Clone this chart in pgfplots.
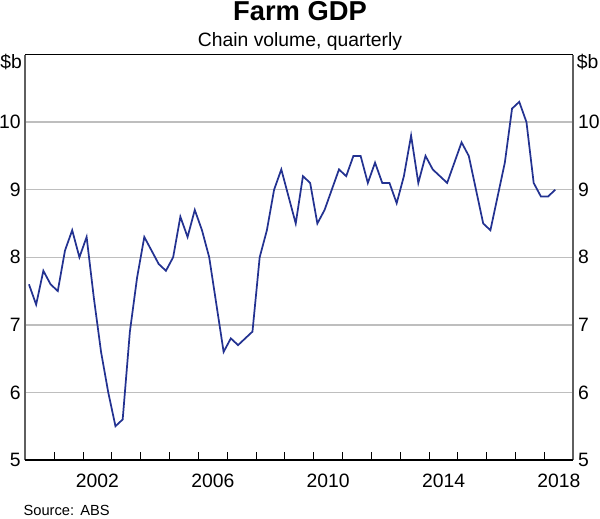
\documentclass[border=0pt]{standalone}
\usepackage{fontspec}
\setmainfont{Liberation Sans}
\usepackage{pgfplots}
\pgfplotsset{compat=1.18}
\definecolor{rbablue}{RGB}{35,50,145}
\definecolor{gridgray}{RGB}{190,190,190}
\definecolor{sidegray}{RGB}{95,95,95}
\pgfplotstableset{col sep=space}
\begin{document}
\begin{tikzpicture}[x=1pt,y=1pt]
\useasboundingbox (0,0) rectangle (450,388.5);
\pgfplotsset{
  farm/.style={
    at={(19pt,43.5pt)}, anchor=south west, scale only axis,
    width=411pt, height=304.1pt,
    xmin=2000, xmax=2019, ymin=5, ymax=11,
    ytick={5,6,7,8,9,10},
    major tick length=0pt,
    /pgf/number format/assume math mode=true,
    tick label style={font=\fontsize{14.5}{16}\selectfont},
  }
}
\begin{axis}[farm,
  clip=false,
  axis line style={draw=none},
  xtick={2002.5,2006.5,2010.5,2014.5,2018.5},
  xticklabels={2002,2006,2010,2014,2018},
  minor xtick={2001,2002,...,2018},
  minor tick length=5.8pt,
  minor tick style={black, line width=0.75pt},
  xtick pos=bottom, ytick pos=left, tick align=inside,
  ymajorgrids, grid style={gridgray, line width=1pt},
  xticklabel style={inner sep=0pt, anchor=north, yshift=-10.5pt},
  yticklabel style={inner sep=0pt, anchor=east, xshift=-3.3pt},
]
\addplot[rbablue, line width=1.3pt, mark=none] table {
x y
2000.125 7.6
2000.375 7.3
2000.625 7.8
2000.875 7.6
2001.125 7.5
2001.375 8.1
2001.625 8.4
2001.875 8.0
2002.125 8.3
2002.375 7.4
2002.625 6.6
2002.875 6.0
2003.125 5.5
2003.375 5.6
2003.625 6.9
2003.875 7.7
2004.125 8.3
2004.375 8.1
2004.625 7.9
2004.875 7.8
2005.125 8.0
2005.375 8.6
2005.625 8.3
2005.875 8.7
2006.125 8.4
2006.375 8.0
2006.625 7.3
2006.875 6.6
2007.125 6.8
2007.375 6.7
2007.625 6.8
2007.875 6.9
2008.125 8.0
2008.375 8.4
2008.625 9.0
2008.875 9.3
2009.125 8.9
2009.375 8.5
2009.625 9.2
2009.875 9.1
2010.125 8.5
2010.375 8.7
2010.625 9.0
2010.875 9.3
2011.125 9.2
2011.375 9.5
2011.625 9.5
2011.875 9.1
2012.125 9.4
2012.375 9.1
2012.625 9.1
2012.875 8.8
2013.125 9.2
2013.375 9.8
2013.625 9.1
2013.875 9.5
2014.125 9.3
2014.375 9.2
2014.625 9.1
2014.875 9.4
2015.125 9.7
2015.375 9.5
2015.625 9.0
2015.875 8.5
2016.125 8.4
2016.375 8.9
2016.625 9.4
2016.875 10.2
2017.125 10.3
2017.375 10.0
2017.625 9.1
2017.875 8.9
2018.125 8.9
2018.375 9.0
};
\draw[sidegray, line width=1.3pt] (rel axis cs:0,0) -- (rel axis cs:0,1);
\draw[sidegray, line width=1.3pt] (rel axis cs:1,0) -- (rel axis cs:1,1);
\draw[black, line width=0.9pt] (rel axis cs:0,1) -- (rel axis cs:1,1);
\draw[black, line width=1pt] (rel axis cs:0,0) -- (rel axis cs:1,0);
\end{axis}
\begin{axis}[farm,
  axis line style={draw=none},
  xtick=\empty,
  ytick pos=right, yticklabel pos=right,
  yticklabel style={inner sep=0pt, anchor=west, xshift=3.3pt},
]
\end{axis}
\node[anchor=base, inner sep=0pt, font=\bfseries\fontsize{20.5}{23}\selectfont] at (225,373) {Farm GDP};
\node[anchor=base, inner sep=0pt, font=\fontsize{14.5}{16}\selectfont] at (225,353.5) {Chain volume, quarterly};
\node[anchor=base west, inner sep=0pt, font=\fontsize{14.5}{16}\selectfont] at (0,336.75) {\$b};
\node[anchor=base west, inner sep=0pt, font=\fontsize{14.5}{16}\selectfont] at (432.5,336.75) {\$b};
\node[anchor=base west, inner sep=0pt, font=\fontsize{11}{13}\selectfont] at (17.5,1.8) {Source:};
\node[anchor=base west, inner sep=0pt, font=\fontsize{11}{13}\selectfont] at (60,1.8) {ABS};
\end{tikzpicture}
\end{document}
